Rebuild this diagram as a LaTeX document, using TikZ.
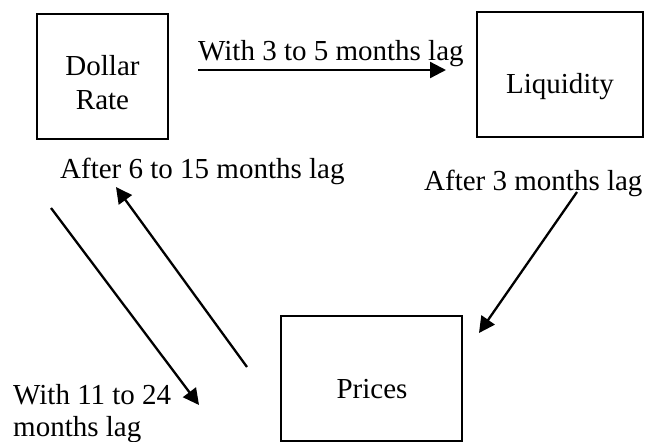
\documentclass[tikz,border=0pt]{standalone}
\usepackage{fontspec}
\setmainfont{Liberation Serif}
\usetikzlibrary{arrows.meta}
\begin{document}
\begin{tikzpicture}[x=1pt,y=-1pt,
  box/.style={draw, line width=1.5pt, inner sep=0pt, minimum height=125pt},
  lbl/.style={inner sep=0pt, font=\fontsize{29}{34}\selectfont},
  conn/.style={line width=2.3pt, -{Triangle[length=16pt,width=16pt]}}]
\useasboundingbox (0,0) rectangle (646,442);
% boxes
\node[box, minimum width=131pt] (dollar) at (102.5,76.5) {};
\node[box, minimum width=166pt] (liq) at (560,74.5) {};
\node[box, minimum width=181pt] (prices) at (371.5,378.5) {};
% box texts
\node[lbl, align=center] (dollarT) at (102.5,83) {Dollar\\Rate};
\node[lbl, anchor=base] (liqT) at (560,93) {Liquidity};
\node[lbl, anchor=base] (pricesT) at (372,398) {Prices};
% connector labels
\node[lbl, anchor=base west] (l1) at (198,60) {With 3 to 5 months lag};
\node[lbl, anchor=base west] (l2) at (60,178) {After 6 to 15 months lag};
\node[lbl, anchor=base west] (l3) at (424,190) {After 3 months lag};
\node[lbl, font=\fontsize{29}{32}\selectfont, align=left, anchor=west] (l4) at (13,414) {With 11 to 24\\months lag};
% connector ends
\coordinate (a1) at (198,70);
\coordinate (a2) at (446,70);
\coordinate (b1) at (577,192);
\coordinate (b2) at (479,333);
\coordinate (c1) at (247,367);
\coordinate (c2) at (116,187);
\coordinate (d1) at (51,208);
\coordinate (d2) at (199,405);
% connectors
\draw[conn] (a1) -- (a2);
\draw[conn] (b1) -- (b2);
\draw[conn] (c1) -- (c2);
\draw[conn] (d1) -- (d2);
\end{tikzpicture}
\end{document}
